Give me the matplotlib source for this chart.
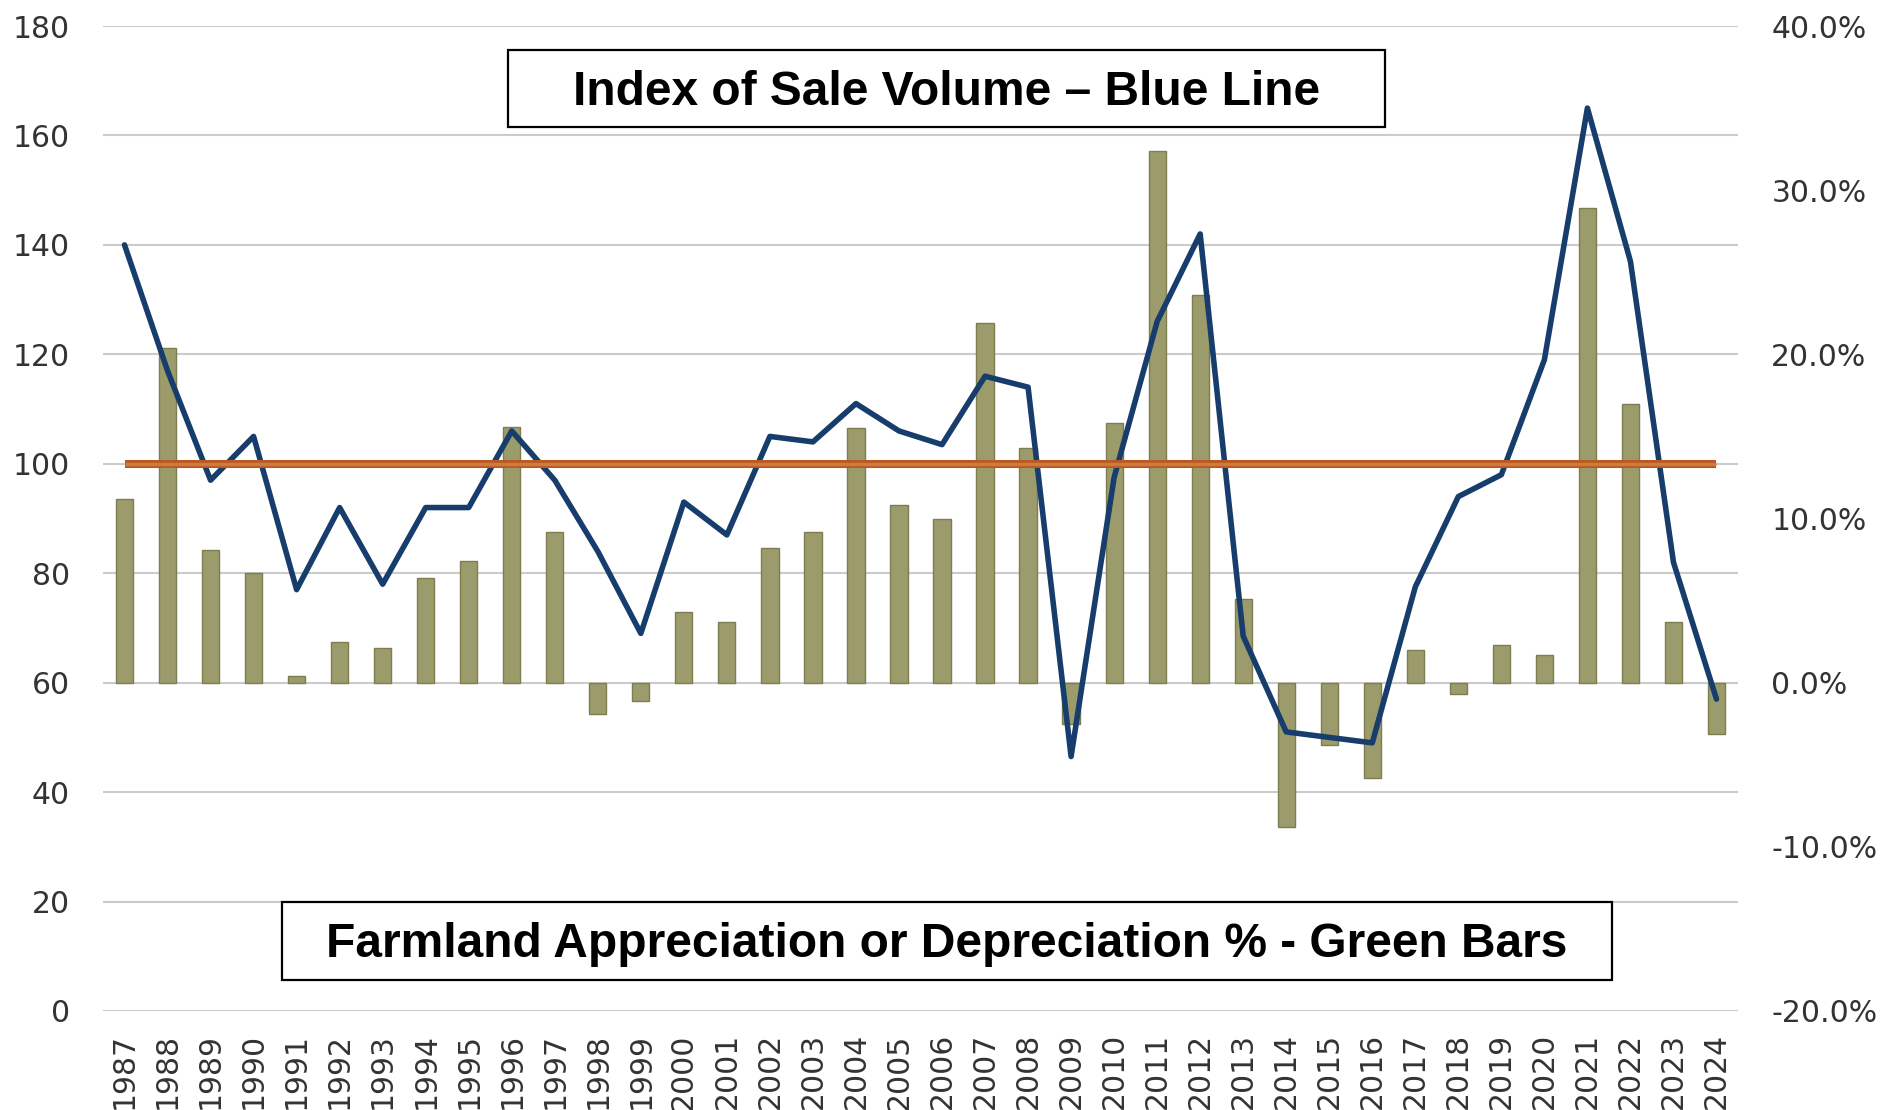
import matplotlib
matplotlib.use("Agg")
import matplotlib.pyplot as plt
from matplotlib.patches import Rectangle
import numpy as np

# ---- data -------------------------------------------------------------
years = ["1987", "1988", "1989", "1990", "1991", "1992", "1993", "1994",
         "1995", "1996", "1997", "1998", "1999", "2000", "2001", "2002",
         "2003", "2004", "2005", "2006", "2007", "2008", "2009", "2010",
         "2011", "2012", "2013", "2014", "2015", "2016", "2017", "2018",
         "2019", "2020", "2021", "2022", "2023", "2024"]

# farmland value change, percent (right axis)
appreciation_pct = [11.2, 20.4, 8.1, 6.7, 0.4, 2.5, 2.1, 6.4,
                    7.4, 15.6, 9.2, -1.9, -1.1, 4.3, 3.7, 8.2,
                    9.2, 15.5, 10.8, 10.0, 21.9, 14.3, -2.5, 15.8,
                    32.4, 23.6, 5.1, -8.8, -3.8, -5.8, 2.0, -0.7,
                    2.3, 1.7, 28.9, 17.0, 3.7, -3.1]

# index of sale volume (left axis)
sale_volume_index = [140, 117, 97, 105, 77, 92, 78, 92,
                     92, 106, 97, 84, 69, 93, 87, 105,
                     104, 111, 106, 103.5, 116, 114, 46.5, 97.5,
                     126, 142, 68.5, 51, 50, 49, 77.5, 94,
                     98, 119, 165, 137, 82, 57]

baseline_index = [100] * len(years)

left_ticks = [0, 20, 40, 60, 80, 100, 120, 140, 160, 180]
right_ticks = [-20, -10, 0, 10, 20, 30, 40]

# ---- figure -----------------------------------------------------------
W, H = 1900, 1110
fig = plt.figure(figsize=(W / 100, H / 100), dpi=100, facecolor="white")

ax_l, ax_r_px, ax_b, ax_t = 103, 1738, 1011, 26
ax = fig.add_axes([ax_l / W, (H - ax_b) / H, (ax_r_px - ax_l) / W, (ax_b - ax_t) / H])
ax2 = ax.twinx()

# bars and grid live on the right-hand axes, drawn underneath the lines
ax2.set_zorder(1)
ax.set_zorder(2)
ax.patch.set_visible(False)
ax2.patch.set_facecolor("white")

x = np.arange(len(years))
tick_color = "#333333"
tick_font = dict(family="DejaVu Sans", size=21.5)

left_lo, left_hi = 0, 180
right_lo, right_hi = -20, 40
ax.set_ylim(left_lo, left_hi)
ax2.set_ylim(right_lo, right_hi)

# horizontal grid follows the left-hand scale but sits beneath the bars
scale = (right_hi - right_lo) / (left_hi - left_lo)
for v in left_ticks:
    ax2.axhline(right_lo + (v - left_lo) * scale, color="#CBCBCB",
                linewidth=1.5, zorder=0)

ax2.bar(x, appreciation_pct, width=0.4, color="#9C9B6B",
        edgecolor="#7E7D4F", linewidth=1.0, zorder=3)
ax2.set_yticks(right_ticks)
ax2.set_yticklabels([f"{v:.1f}%" for v in right_ticks], color=tick_color, **tick_font)
ax2.tick_params(axis="y", length=0, pad=24)

ax.plot(x, sale_volume_index, color="#173D6C", linewidth=4.0,
        solid_joinstyle="round", solid_capstyle="round", zorder=3)
ax.plot(x, baseline_index, color="#B95A22", linewidth=5.8,
        solid_capstyle="butt", zorder=4)
ax.plot(x, baseline_index, color="#D07A3B", linewidth=2.4,
        solid_capstyle="butt", zorder=5)

ax.set_xlim(-0.5, len(years) - 0.5)
ax.set_yticks(left_ticks)
ax.set_yticklabels([str(v) for v in left_ticks], color=tick_color, **tick_font)
ax.tick_params(axis="y", length=0, pad=24)
ax.set_xticks(x)
ax.set_xticklabels(years, rotation=90, color=tick_color, **tick_font)
ax.tick_params(axis="x", length=0, pad=16)

for a in (ax, ax2):
    for s in a.spines.values():
        s.set_visible(False)

# ---- caption boxes ----------------------------------------------------
def caption(x0, y0, x1, y1, text):
    fig.patches.append(Rectangle((x0 / W, (H - y1) / H), (x1 - x0) / W, (y1 - y0) / H,
                                 transform=fig.transFigure, facecolor="white",
                                 edgecolor="black", linewidth=1.6, zorder=10))
    fig.text((x0 + x1) / 2 / W, (H - (y0 + y1) / 2 - 4) / H, text,
             ha="center", va="center", fontsize=34.5, fontweight="bold",
             family="Liberation Sans", color="black", zorder=11)

caption(508, 50, 1385, 127, "Index of Sale Volume \u2013 Blue Line")
caption(282, 902, 1612, 979.5, "Farmland Appreciation or Depreciation % - Green Bars")

fig.savefig("out.png", dpi=100, facecolor="white")
